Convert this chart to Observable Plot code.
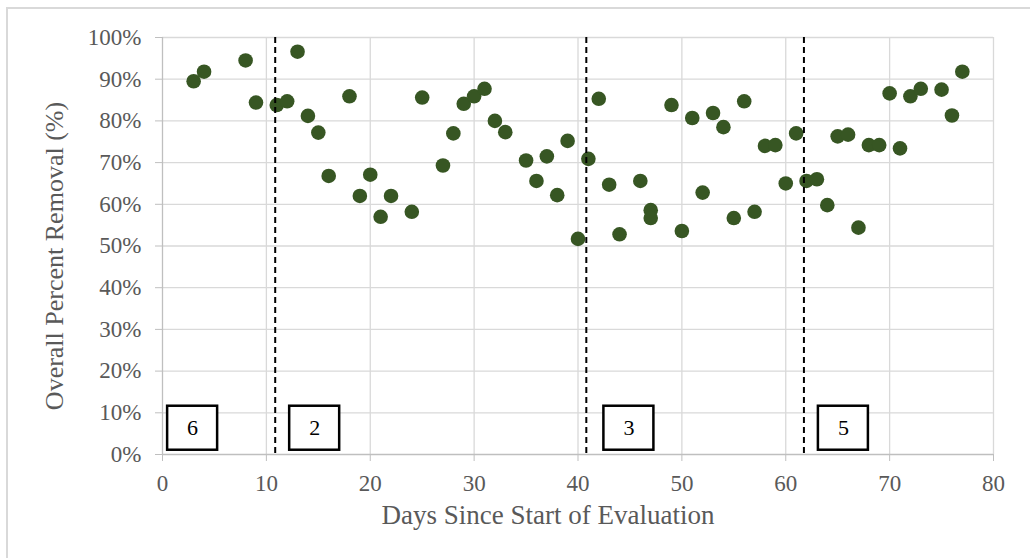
<!DOCTYPE html>
<html><head><meta charset="utf-8">
<script src="https://cdn.jsdelivr.net/npm/d3@7"></script>
<script src="https://cdn.jsdelivr.net/npm/@observablehq/plot@0.6"></script>
<style>
html,body{margin:0;padding:0;background:#fff;overflow:hidden;}
#wrap{position:relative;width:1030px;height:558px;overflow:hidden;}
#frame{position:absolute;left:6px;top:7px;width:1100px;height:700px;border:2px solid #d9d9d9;box-sizing:border-box;}
#chart{position:absolute;left:0;top:0;}
</style></head><body>
<div id="wrap"><div id="frame"></div><div id="chart"></div></div>
<script>
// Data
const days = [3,4,8,9,11,12,13,14,15,16,18,19,20,21,22,24,25,27,28,29,30,31,32,33,35,36,37,38,39,40,41,42,43,44,46,47,47,49,50,51,52,53,54,55,56,57,58,59,60,61,62,63,64,65,66,67,68,69,70,71,72,73,75,76,77];
const removal = [89.5,91.8,94.5,84.4,83.8,84.7,96.6,81.2,77.2,66.8,85.9,62.0,67.1,57.0,62.0,58.2,85.6,69.3,77.0,84.1,85.9,87.7,80.0,77.3,70.5,65.6,71.5,62.2,75.2,51.7,70.9,85.3,64.7,52.8,65.6,58.6,56.7,83.8,53.6,80.7,62.8,81.9,78.5,56.7,84.7,58.2,74.0,74.2,65.0,77.0,65.6,66.0,59.8,76.3,76.7,54.4,74.2,74.2,86.6,73.4,85.9,87.7,87.5,81.3,91.8];
const phaseBreaks = [10.85, 40.8, 61.75];
const phaseLabels = ["6", "2", "3", "5"];
const phaseLabelDays = [2.9, 14.65, 44.9, 65.55];
const phaseLabelPct = 6.3;
const xTicks = [0,10,20,30,40,50,60,70,80];
const yTicks = [0,10,20,30,40,50,60,70,80,90,100];
const xTitle = "Days Since Start of Evaluation";
const yTitle = "Overall Percent Removal (%)";

const rows = days.map((d, i) => ({day: d, removal: removal[i]}));
const phaseRows = phaseLabels.map((l, i) => ({label: l, day: phaseLabelDays[i], pct: phaseLabelPct}));

const chart = Plot.plot({
  width: 1030, height: 558,
  marginLeft: 162, marginRight: 37, marginTop: 37, marginBottom: 104,
  style: {fontFamily: "'Liberation Serif', 'Times New Roman', serif", fontSize: "23px", background: "transparent", color: "#595959"},
  x: {domain: [0, 80]},
  y: {domain: [0, 100]},
  marks: [
    Plot.gridX(xTicks.slice(1), {stroke: "#d9d9d9", strokeOpacity: 1, strokeWidth: 1.3}),
    Plot.gridY(yTicks.slice(1), {stroke: "#d9d9d9", strokeOpacity: 1, strokeWidth: 1.3}),
    Plot.axisY(yTicks, {tickSize: 7, tickPadding: 14, tickFormat: d => d + "%", stroke: "#bfbfbf", fill: "#595959", label: null}),
    Plot.axisX(xTicks, {tickSize: 7, tickPadding: 13, stroke: "#bfbfbf", fill: "#595959", label: null}),
    Plot.ruleY([0], {stroke: "#bfbfbf", strokeWidth: 1.3}),
    Plot.ruleX([0], {stroke: "#bfbfbf", strokeWidth: 1.3}),
    Plot.dot(rows, {x: "day", y: "removal", r: 7.3, fill: "#375623"}),
    Plot.ruleX(phaseBreaks, {stroke: "#000", strokeWidth: 2, strokeDasharray: "6,4"}),
    Plot.rect(phaseRows, {x1: "day", x2: "day", y1: "pct", y2: "pct", insetLeft: -25, insetRight: -25, insetTop: -22, insetBottom: -22, fill: "white", stroke: "black", strokeWidth: 2.5}),
    Plot.text(phaseRows, {x: "day", y: "pct", text: "label", fill: "black", fontSize: 22}),
    Plot.text([xTitle], {frameAnchor: "bottom", textAnchor: "middle", text: d => d, dx: -30, dy: 69, fontSize: 27, fill: "#595959"}),
    Plot.text([yTitle], {frameAnchor: "left", textAnchor: "middle", text: d => d, rotate: -90, dx: -108, dy: 10, fontSize: 26, fill: "#595959"})
  ]
});
document.getElementById("chart").appendChild(chart);
</script></body></html>
